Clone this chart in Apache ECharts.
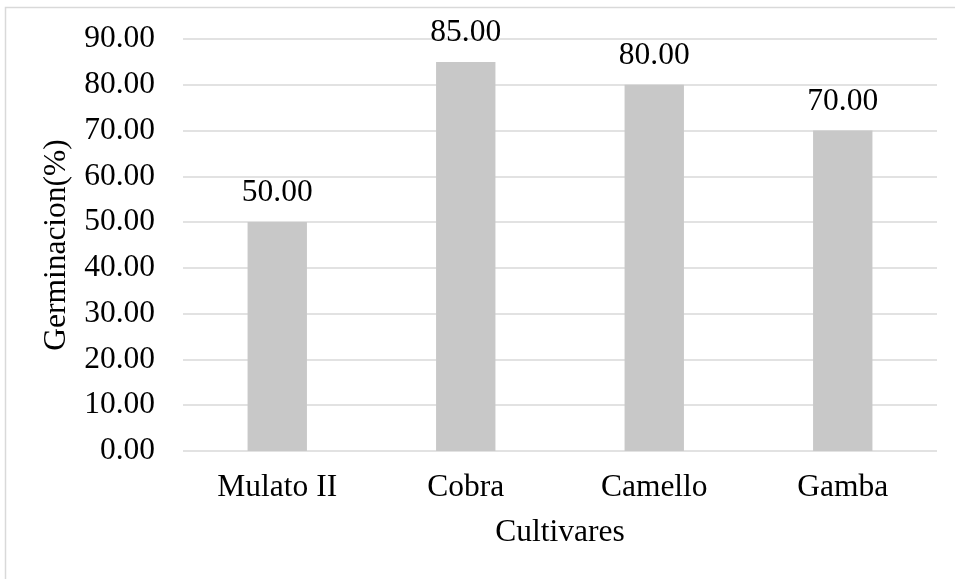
<!DOCTYPE html>
<html>
<head>
<meta charset="utf-8">
<script src="https://cdn.jsdelivr.net/npm/echarts@6/dist/echarts.min.js"></script>
<style>
  html, body { margin: 0; padding: 0; background: #fff; }
  #container { width: 955px; height: 579px; }
</style>
</head>
<body>
<div id="container"></div>
<script>
var categories = ['Mulato II', 'Cobra', 'Camello', 'Gamba'];
var germinacion = [50, 85, 80, 70];
var yTicks = [0, 10, 20, 30, 40, 50, 60, 70, 80, 90];

var serif = "'Liberation Serif', 'Times New Roman', serif";
var fs = 31.5;

var option = {
  animation: false,
  backgroundColor: '#fff',
  textStyle: { fontFamily: serif, color: '#000' },
  graphic: [{
    type: 'rect',
    silent: true,
    shape: { x: 5.5, y: 7.5, width: 1200, height: 1000 },
    style: { fill: 'none', stroke: '#d9d9d9', lineWidth: 1.5 }
  }],
  grid: {
    left: 183,
    right: 18,
    top: 39,
    bottom: 128
  },
  xAxis: {
    type: 'category',
    data: categories,
    name: 'Cultivares',
    nameLocation: 'middle',
    nameGap: 66,
    nameTextStyle: { fontFamily: serif, fontSize: fs, color: '#000' },
    axisLine: { show: false },
    axisTick: { show: false },
    axisLabel: { fontFamily: serif, fontSize: fs, color: '#000', margin: 21 }
  },
  yAxis: {
    type: 'value',
    min: yTicks[0],
    max: yTicks[yTicks.length - 1],
    interval: yTicks[1] - yTicks[0],
    name: 'Germinacion(%)',
    nameLocation: 'middle',
    nameGap: 110,
    nameRotate: 90,
    nameTextStyle: { fontFamily: serif, fontSize: fs, color: '#000' },
    axisLine: { show: false },
    axisTick: { show: false },
    axisLabel: {
      fontFamily: serif, fontSize: fs, color: '#000', margin: 28,
      formatter: function (v) { return v.toFixed(2); }
    },
    splitLine: { lineStyle: { color: '#d9d9d9', width: 1.5 } }
  },
  series: [{
    type: 'bar',
    data: germinacion,
    barWidth: '31.5%',
    itemStyle: { color: '#c8c8c8' },
    label: {
      show: true,
      position: 'top',
      distance: 13,
      fontFamily: serif,
      fontSize: fs,
      color: '#000',
      formatter: function (p) { return p.value.toFixed(2); }
    }
  }]
};

var myChart = echarts.init(document.getElementById('container'), null, { renderer: 'canvas' });
myChart.setOption(option);
</script>
</body>
</html>
